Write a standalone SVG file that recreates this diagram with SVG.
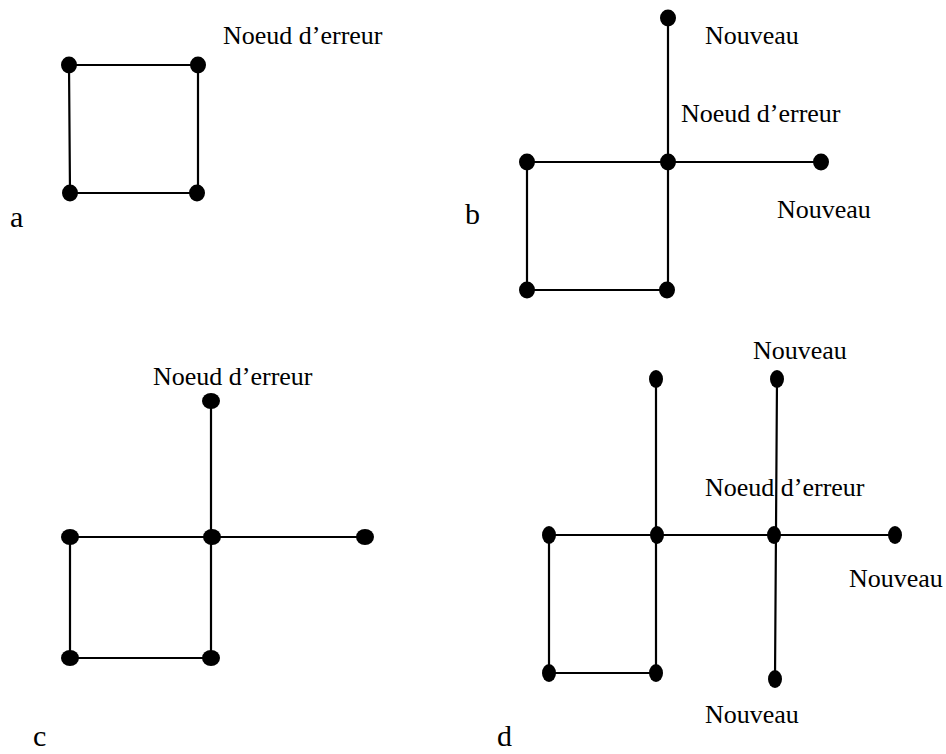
<svg xmlns="http://www.w3.org/2000/svg" width="946" height="754" viewBox="0 0 946 754">
  <style>
    .edge { stroke: #000; stroke-width: 2.2; fill: none; }
    .node { fill: #000; }
    .lbl { font-family: "Liberation Serif", "Times New Roman", serif; font-size: 26px; fill: #000; }
    .tag { font-family: "Liberation Serif", "Times New Roman", serif; font-size: 30px; fill: #000; }
  </style>
  <rect width="946" height="754" fill="#fff"/>

  <!-- Connectors -->
  <g id="connectors">
    <!-- a -->
    <path class="edge" d="M69 65 H198 V193 H70 Z"/>
    <!-- b -->
    <path class="edge" d="M668 18 V290 M527 162 H821 M527 162 V290 H667"/>
    <!-- c -->
    <path class="edge" d="M211 401 V658 M70 537 H365 M70 537 V658 H211"/>
    <!-- d -->
    <path class="edge" d="M656 379 V673 H549 V535 H895 M777 379 L775 679"/>
  </g>

  <!-- a -->
  <g id="a-n1"><ellipse class="node" cx="69" cy="65" rx="8" ry="8.5"/></g>
  <g id="a-n2"><ellipse class="node" cx="198" cy="65" rx="8" ry="8.5"/></g>
  <g id="a-n3"><ellipse class="node" cx="70" cy="193" rx="8" ry="8.5"/></g>
  <g id="a-n4"><ellipse class="node" cx="197" cy="193" rx="8" ry="8.5"/></g>

  <!-- b -->
  <g id="b-n1"><ellipse class="node" cx="668" cy="18" rx="8" ry="8.5"/></g>
  <g id="b-n2"><ellipse class="node" cx="668" cy="162" rx="8" ry="8.5"/></g>
  <g id="b-n3"><ellipse class="node" cx="821" cy="162" rx="8" ry="8.5"/></g>
  <g id="b-n4"><ellipse class="node" cx="527" cy="162" rx="8" ry="8.5"/></g>
  <g id="b-n5"><ellipse class="node" cx="527" cy="290" rx="8" ry="8.5"/></g>
  <g id="b-n6"><ellipse class="node" cx="667" cy="290" rx="8" ry="8.5"/></g>

  <!-- c -->
  <g id="c-n1"><ellipse class="node" cx="211" cy="401" rx="9" ry="8"/></g>
  <g id="c-n2"><ellipse class="node" cx="212" cy="537" rx="9" ry="8"/></g>
  <g id="c-n3"><ellipse class="node" cx="365" cy="537" rx="9" ry="8"/></g>
  <g id="c-n4"><ellipse class="node" cx="70" cy="537" rx="9" ry="8"/></g>
  <g id="c-n5"><ellipse class="node" cx="70" cy="658" rx="9" ry="8"/></g>
  <g id="c-n6"><ellipse class="node" cx="211" cy="658" rx="9" ry="8"/></g>

  <!-- d -->
  <g id="d-n1"><ellipse class="node" cx="656" cy="379" rx="7" ry="9"/></g>
  <g id="d-n2"><ellipse class="node" cx="777" cy="379" rx="7" ry="9"/></g>
  <g id="d-n3"><ellipse class="node" cx="657" cy="535" rx="7" ry="9"/></g>
  <g id="d-n4"><ellipse class="node" cx="774" cy="535" rx="7" ry="9"/></g>
  <g id="d-n5"><ellipse class="node" cx="895" cy="535" rx="7" ry="9"/></g>
  <g id="d-n6"><ellipse class="node" cx="549" cy="535" rx="7" ry="9"/></g>
  <g id="d-n7"><ellipse class="node" cx="549" cy="673" rx="7" ry="9"/></g>
  <g id="d-n8"><ellipse class="node" cx="656" cy="673" rx="7" ry="9"/></g>
  <g id="d-n9"><ellipse class="node" cx="775" cy="679" rx="7" ry="9"/></g>

  <!-- Labels -->
  <g id="labels">
    <text class="lbl" x="223" y="44">Noeud d’erreur</text>
    <text class="tag" x="10" y="227">a</text>

    <text class="lbl" x="705" y="44">Nouveau</text>
    <text class="lbl" x="681" y="122">Noeud d’erreur</text>
    <text class="lbl" x="777" y="218">Nouveau</text>
    <text class="tag" x="465" y="224">b</text>

    <text class="lbl" x="153" y="385">Noeud d’erreur</text>
    <text class="tag" x="33" y="746">c</text>

    <text class="lbl" x="753" y="359">Nouveau</text>
    <text class="lbl" x="705" y="496">Noeud d’erreur</text>
    <text class="lbl" x="849" y="587">Nouveau</text>
    <text class="lbl" x="705" y="723">Nouveau</text>
    <text class="tag" x="497" y="746">d</text>
  </g>
</svg>
